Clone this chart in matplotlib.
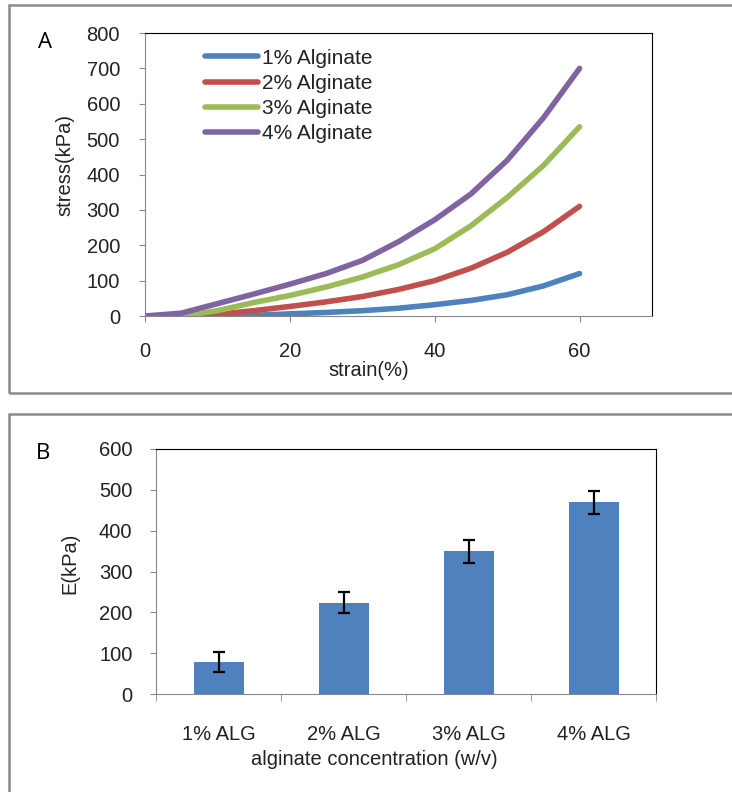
import numpy as np
import matplotlib
matplotlib.use("Agg")
import matplotlib.pyplot as plt
from matplotlib.patches import Rectangle

plt.rcParams['font.family'] = ['Liberation Sans', 'DejaVu Sans']

# panel A: stress-strain curves
strain_1 = [10, 15, 20, 25, 30, 35, 40, 45, 50, 55, 60]
stress_1 = [0, 2, 6, 10, 15, 22, 32, 44, 60, 85, 120]
strain_2 = [7, 10, 15, 20, 25, 30, 35, 40, 45, 50, 55, 60]
stress_2 = [0, 5, 15, 27, 40, 55, 75, 100, 135, 180, 238, 310]
strain_3 = [5, 10, 15, 20, 25, 30, 35, 40, 45, 50, 55, 60]
stress_3 = [0, 15, 38, 58, 82, 110, 145, 190, 255, 335, 425, 535]
strain_4 = [0, 5, 10, 15, 20, 25, 30, 35, 40, 45, 50, 55, 60]
stress_4 = [0, 8, 35, 62, 90, 120, 157, 210, 272, 345, 440, 560, 700]
series_names = ['1% Alginate', '2% Alginate', '3% Alginate', '4% Alginate']
series_colors = ['#4F81BD', '#C0504D', '#9BBB59', '#8064A2']

# panel B: modulus per concentration
groups = ['1% ALG', '2% ALG', '3% ALG', '4% ALG']
modulus = [78, 224, 349, 469]
modulus_err = [24, 25, 27, 29]

W, H = 732, 792
fig = plt.figure(figsize=(W / 100, H / 100), dpi=100)

# outer frames
for y0, y1 in [(5, 393), (414, 805)]:
    fig.add_artist(Rectangle((9 / W, 1 - y1 / H), (745 - 9) / W, (y1 - y0) / H,
                             transform=fig.transFigure, fill=False,
                             edgecolor='#8c8c8c', linewidth=1.8))

txt = '#222222'
fs = 14.5

# ---- panel A
ax = fig.add_axes([145 / W, 1 - 316 / H, 507 / W, 283 / H])
curves = [(strain_1, stress_1), (strain_2, stress_2), (strain_3, stress_3), (strain_4, stress_4)]
for (sx, sy), name, c in zip(curves, series_names, series_colors):
    ax.plot(sx, sy, color=c, linewidth=4, label=name, solid_capstyle='round',
            solid_joinstyle='round')
ax.set_xlim(0, 70)
ax.set_ylim(0, 800)
ax.set_xticks([0, 20, 40, 60])
ax.set_yticks(range(0, 801, 100))
ax.tick_params(axis='x', direction='out', length=4, pad=15, labelsize=fs, labelcolor=txt, color='#888888')
ax.tick_params(axis='y', direction='out', length=4, pad=14, labelsize=fs, labelcolor=txt, color='#888888')
for s in ['left', 'bottom']:
    ax.spines[s].set_color('#888888')
for s in ['top', 'right']:
    ax.spines[s].set_color('black')
ax.set_ylabel('stress(kPa)', fontsize=fs, color=txt, va='center')
ax.yaxis.set_label_coords(-0.158, 0.534)
ax.set_xlabel('strain(%)', fontsize=fs, color=txt, va='center')
ax.xaxis.set_label_coords(0.442, -0.191)
leg = ax.legend(loc='upper left', bbox_to_anchor=(0.118, 0.945), frameon=False,
                fontsize=fs + 0.5, handlelength=2.55, handletextpad=0.2,
                labelspacing=0.3, borderpad=0, borderaxespad=0)
for t in leg.get_texts():
    t.set_color(txt)
fig.text(45 / W, 1 - 43 / H, 'A', fontsize=16, family=['Open Sans', 'DejaVu Sans'],
         ha='center', va='center')

# ---- panel B
bx = fig.add_axes([156 / W, 1 - 694 / H, 500 / W, 245 / H])
xpos = np.arange(len(groups))
bx.bar(xpos, modulus, width=0.4, color='#4F81BD', yerr=modulus_err, capsize=4.5,
       error_kw=dict(elinewidth=1.6, capthick=1.6, ecolor='black'))
bx.set_xlim(-0.5, len(groups) - 0.5)
bx.set_ylim(0, 600)
bx.set_yticks(range(0, 601, 100))
bx.set_xticks(xpos)
bx.set_xticklabels(groups)
bx.set_xticks(np.arange(-0.5, len(groups), 1.0), minor=True)
bx.tick_params(axis='x', which='major', length=0, pad=22, labelsize=fs, labelcolor=txt)
bx.tick_params(axis='x', which='minor', direction='out', length=5, color='#888888')
bx.tick_params(axis='y', direction='out', length=4, pad=13, labelsize=fs, labelcolor=txt, color='#888888')
for s in ['left', 'bottom']:
    bx.spines[s].set_color('#888888')
for s in ['top', 'right']:
    bx.spines[s].set_color('black')
bx.set_ylabel('E(kPa)', fontsize=fs, color=txt, va='center')
bx.yaxis.set_label_coords(-0.172, 0.535)
bx.set_xlabel('alginate concentration (w/v)', fontsize=fs, color=txt, va='center')
bx.xaxis.set_label_coords(0.436, -0.269)
fig.text(43 / W, 1 - 453 / H, 'B', fontsize=16, family=['Open Sans', 'DejaVu Sans'],
         ha='center', va='center')

fig.savefig('out.png', dpi=100)
